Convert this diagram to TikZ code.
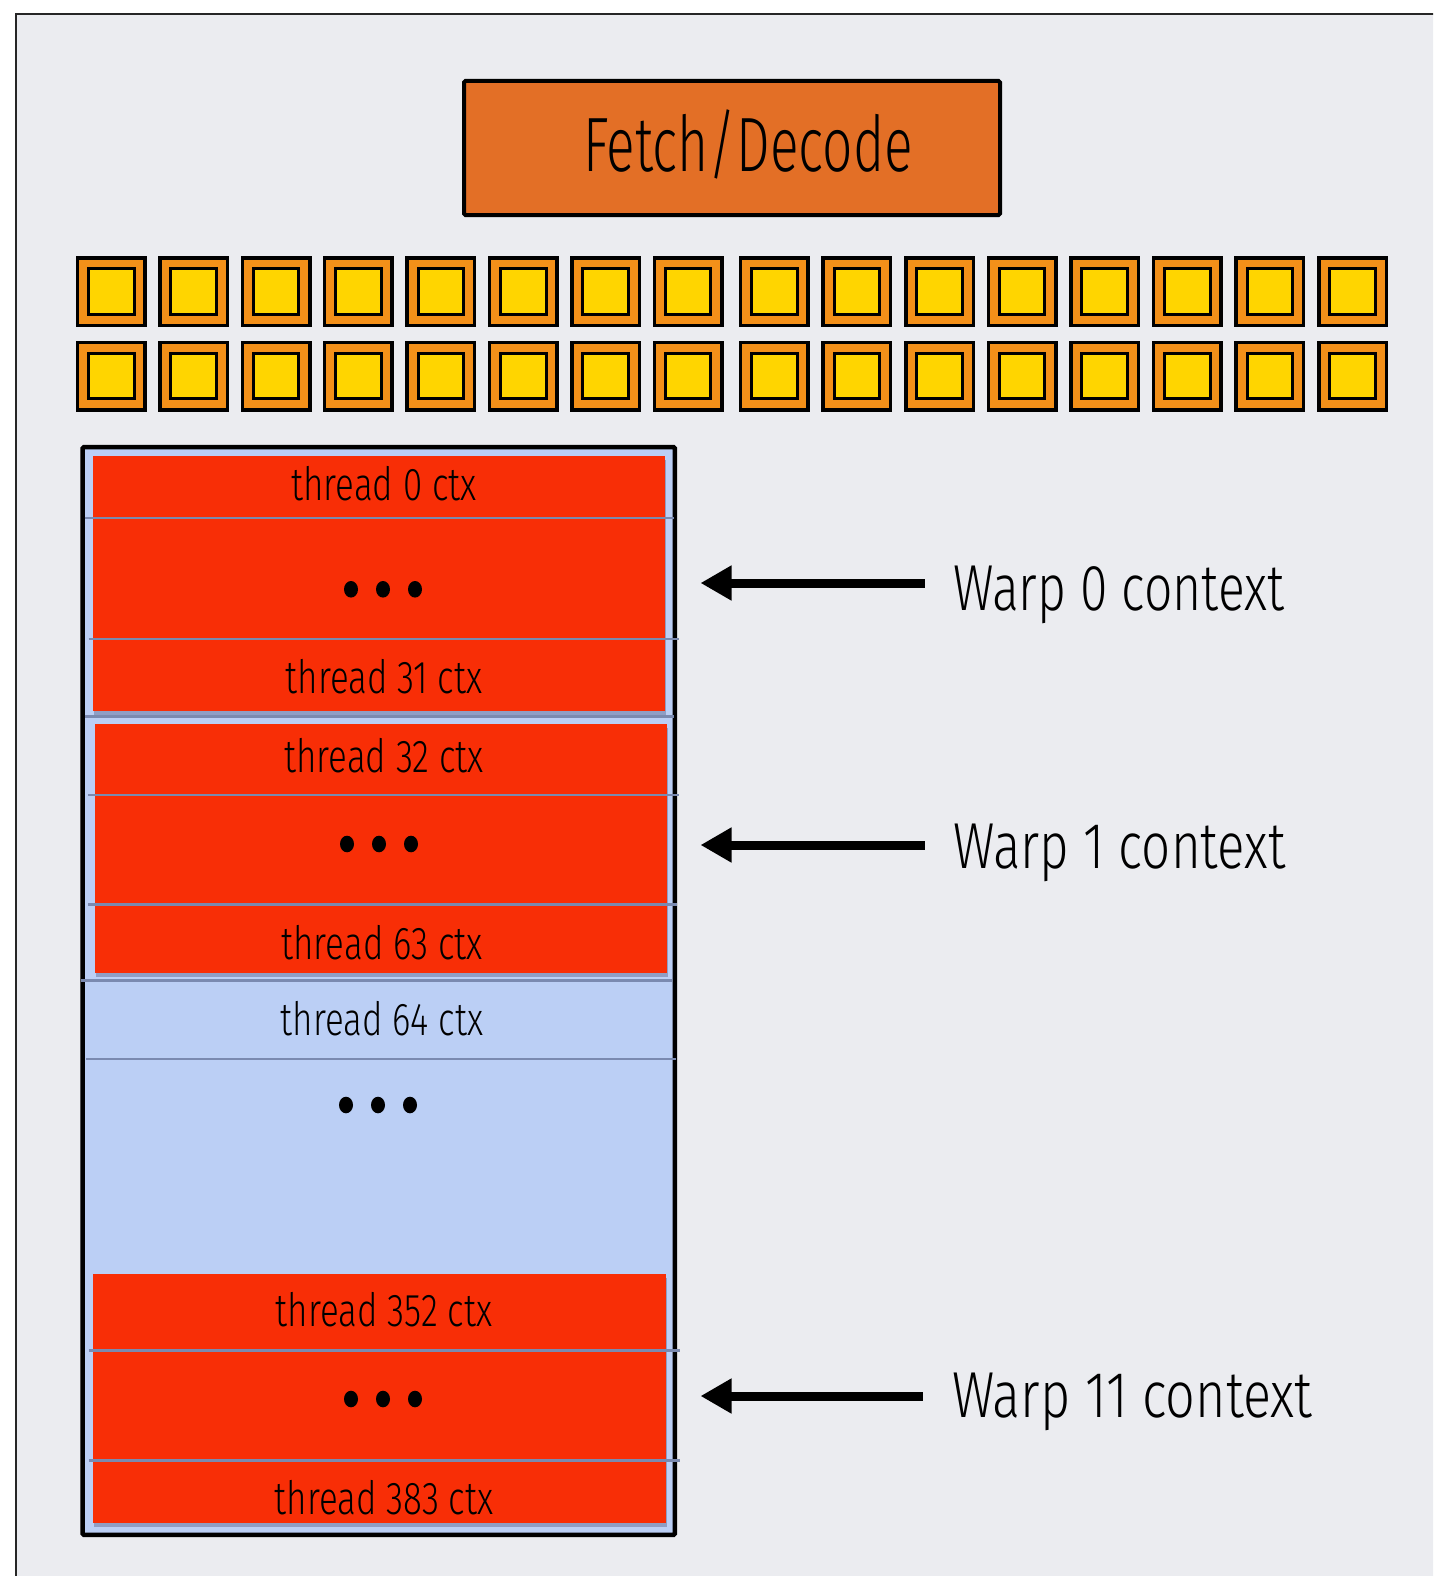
\documentclass[tikz,border=0pt]{standalone}
\usepackage{fontspec}
\setmainfont{Fira Sans Light}[FakeStretch=0.76]
\usetikzlibrary{arrows.meta,shadows}
\definecolor{bg}{RGB}{235,236,240}
\definecolor{fetchc}{RGB}{227,111,38}
\definecolor{sqout}{RGB}{243,144,25}
\definecolor{sqin}{RGB}{255,213,0}
\definecolor{ctxc}{RGB}{187,207,245}
\definecolor{ctxred}{RGB}{248,46,6}
\definecolor{divc}{RGB}{122,138,176}
\definecolor{shadc}{RGB}{90,100,140}
\tikzset{
  fetchbox/.style={rectangle, draw=black, line width=4pt, fill=fetchc, rounded corners=1.5pt, inner sep=0pt},
  sqouter/.style={rectangle, draw=black, line width=3.5pt, fill=sqout, minimum size=67.5pt, inner sep=0pt},
  sqinner/.style={rectangle, draw=black, line width=3pt, fill=sqin, minimum size=45.6pt, inner sep=0pt},
  redbox/.style={rectangle, fill=ctxred, inner sep=0pt,
     drop shadow={shadow xshift=1pt, shadow yshift=-4pt, fill=shadc, opacity=0.45}},
  divline/.style={draw=divc, line width=2.5pt},
  thlbl/.style={anchor=base, inner sep=0pt, font=\fontsize{46pt}{50pt}\selectfont},
  warplbl/.style={anchor=base west, inner sep=0pt, font=\fontsize{65pt}{70pt}\selectfont},
  warparrow/.style={line width=9pt, -{Triangle[length=31pt,width=33pt]}},
  dotmark/.style={fill=black}
}
\begin{document}
\begin{tikzpicture}[x=1pt,y=-1pt]
\useasboundingbox (0,0) rectangle (1433,1576);
\clip (0,0) rectangle (1433,1576);
% outer frame
\draw[line width=2.2pt, draw=black!85, fill=bg] (16,14) rectangle (1460,1600);

% fetch/decode
\node[fetchbox, minimum width=536pt, minimum height=134pt] (fetch) at (732,148) {};
\node[anchor=base, inner sep=0pt, font=\fontsize{77pt}{80pt}\selectfont] (fetchtxt) at (748,171) {\scalebox{0.91}[1]{Fetch/Decode}};

% ALU squares
\foreach \r/\yc in {0/291.5, 1/376} {
  \foreach \i in {0,...,15} {
    \pgfmathsetmacro\xc{\i<8 ? 111.2+82.4*\i : 774.3+82.6*(\i-8)}
    \node[sqouter] (sq-\r-\i) at (\xc,\yc) {};
    \node[sqinner] (sqi-\r-\i) at (\xc,\yc) {};
  }
}

% context storage
\node[rectangle, fill=ctxc, minimum width=592pt, minimum height=1087.5pt, inner sep=0pt] (ctx) at (378.75,991) {};
\node[redbox, minimum width=572.5pt, minimum height=255pt] (w0) at (378.75,583.5) {};
\node[redbox, minimum width=572.5pt, minimum height=249.5pt] (w1) at (380.75,848.25) {};
\node[redbox, minimum width=573.5pt, minimum height=248.6pt] (w11) at (379.25,1398.3) {};
\draw[line width=4.5pt, draw=black, rounded corners=1.5pt] (ctx.north west) rectangle (ctx.south east);

% dividers
\draw[divline] (84.5,518) -- (674,518);
\draw[divline] (88.6,639) -- (679,639);
\draw[divline] (84.5,716.7) -- (674,716.7);
\draw[divline] (88,795) -- (679,795);
\draw[divline] (88,904.5) -- (677,904.5);
\draw[divline] (81,980.7) -- (672,980.7);
\draw[divline] (86,1059) -- (676,1059);
\draw[divline] (88.5,1350.3) -- (680,1350.3);
\draw[divline] (88.5,1460.3) -- (680,1460.3);

% thread labels
\node[thlbl] (t0) at (384,500.7) {thread 0 ctx};
\node[thlbl] (t31) at (384,693.3) {thread 31 ctx};
\node[thlbl] (t32) at (384,772) {thread 32 ctx};
\node[thlbl] (t63) at (382,959.5) {thread 63 ctx};
\node[thlbl] (t64) at (382,1035) {thread 64 ctx};
\node[thlbl] (t352) at (384,1326) {thread 352 ctx};
\node[thlbl] (t383) at (384,1514) {thread 383 ctx};

% ellipsis dots
\foreach \cx/\cy in {383/589.3, 379/844, 378/1105, 383/1399} {
  \foreach \dx in {-32,0,32} {
    \fill[dotmark] (\cx+\dx,\cy) ellipse [x radius=7pt, y radius=8.3pt];
  }
}

% warp labels and arrows
\node[warplbl] (l0) at (953,610) {\scalebox{1.01}[1]{Warp 0 context}};
\node[warplbl] (l1) at (953,868) {\scalebox{1.034}[1]{Warp 1 context}};
\node[warplbl] (l11) at (952,1417) {\scalebox{1.056}[1]{Warp 11 context}};
\coordinate (a0s) at (924.6,583);
\coordinate (a0e) at (700.5,583);
\coordinate (a1s) at (924.6,845);
\coordinate (a1e) at (700.5,845);
\coordinate (a11s) at (922.6,1396);
\coordinate (a11e) at (700.5,1396);
\draw[warparrow] (a0s) -- (a0e);
\draw[warparrow] (a1s) -- (a1e);
\draw[warparrow] (a11s) -- (a11e);
\end{tikzpicture}
\end{document}
